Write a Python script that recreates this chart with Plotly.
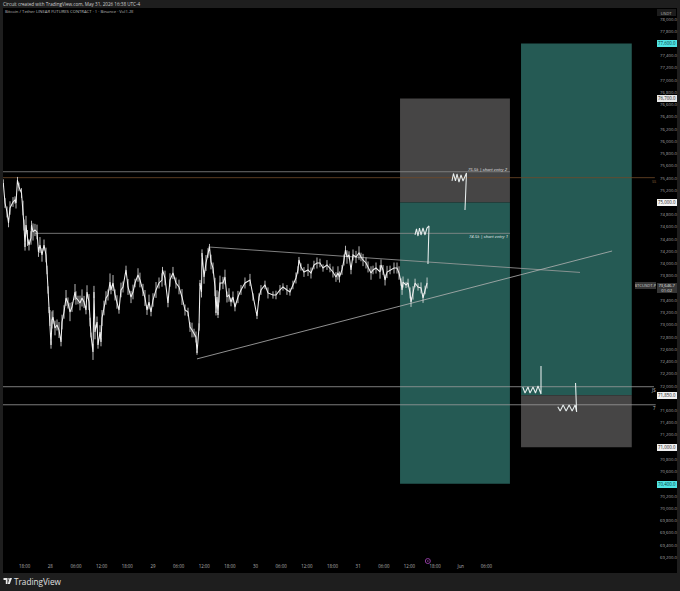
import pandas as pd
import plotly.graph_objects as go

START = pd.Timestamp("2026-05-27 13:00")

hours = [0,.4,.87,1.22,1.57,2.27,2.74,2.97,3.32,3.67,4.26,4.61,4.84,5.08,5.31,5.66,6.01,6.48,6.6,6.95,7.41,7.88,8.23,8.58,9.05,9.52,9.99,10.22,10.46,10.69,10.92,11.16,11.39,11.62,12.09,12.56,13.03,13.5,13.73,14.2,14.67,15.13,15.6,16.07,16.77,17.0,17.47,17.94,18.41,18.88,19.34,19.58,20.05,20.28,20.51,20.98,21.21,21.45,21.92,22.15,22.62,22.85,23.09,23.55,24.02,24.49,24.96,25.19,25.66,26.13,26.59,27.06,27.53,28.0,28.7,29.17,29.87,30.34,30.81,31.51,31.97,32.67,33.14,33.61,34.08,34.55,35.01,35.72,36.42,37.12,37.24,37.82,38.52,38.99,39.69,40.39,41.1,41.8,42.5,43.2,43.67,44.14,44.61,45.07,45.31,45.78,46.01,46.36,46.48,46.95,47.41,47.88,48.23,48.58,49.05,49.52,49.75,49.98,50.22,50.45,50.68,51.38,51.85,52.32,52.79,53.26,53.72,54.19,54.89,55.6,56.53,57.7,58.4,59.34,59.81,60.27,61.21,61.91,63.08,63.78,64.72,65.42,66.35,67.05,67.75,68.46,68.92,69.16,69.63,70.33,71.27,71.97,72.67,73.37,74.07,74.78,75.71,76.41,77.11,77.81,78.28,78.63,79.22,79.69,80.04,80.39,80.86,81.33,81.8,82.5,83.2,83.67,84.14,84.84,85.31,86.01,86.48,87.18,88.12,88.35,88.82,89.29,89.76,90.46,91.39,92.09,92.56,93.03,93.27,93.5,94.2,94.67,95.14,95.37,95.84,96.31,97.01,97.71,98.18,98.65,99.12]
prices = [75319,74992,74845,74665,74910,75008,75041,74992,75368,75254,75155,74910,74632,74273,74632,74420,74305,74420,74632,74518,74551,74518,74191,74305,74142,74305,74142,73897,73570,73242,73112,72670,73079,73128,72948,72997,72915,72719,73046,73210,73439,73357,73210,73291,73537,73439,73406,73357,73439,73373,73242,73537,73373,73046,72834,72556,73537,72883,73046,72670,72883,72719,73112,73275,73439,73488,73700,73570,73684,73488,73373,73242,73570,73619,73897,73619,73455,73537,73684,73815,73733,73570,73439,73242,73373,73210,73406,73570,73684,73733,73897,73766,73357,73733,73847,73684,73619,73455,73242,73210,72964,72915,72866,72801,72540,72964,73684,73537,74174,73782,74011,74174,74273,74027,73929,73619,73193,73455,73161,73455,73684,73684,73782,73455,73488,73373,73455,73291,73455,73570,73684,73733,73455,73144,73455,73570,73652,73521,73488,73488,73570,73619,73570,73537,73652,73766,73897,74060,73946,73864,73897,73847,73978,74011,74011,73929,73978,73929,73864,73782,73847,73782,73897,74060,74223,74109,74142,73897,74142,74109,74174,74109,74060,74011,73946,73847,73897,73929,73864,73978,73897,73733,73864,73897,73929,73929,73847,73700,73570,73700,73652,73684,73521,73373,73521,73684,73619,73603,73439,73570,73684]
# high-to-low spread read around each point
spreads = [60,80,90,70,110,80,60,90,50,70,80,120,90,60,150,130,90,110,70,140,100,120,80,130,110,90,120,70,60,50,
           130,60,140,110,120,90,130,70,120,110,130,90,150,80,130,110,70,120,140,100,70,110,130,70,40,130,100,120,90,60,
           110,70,130,120,110,90,140,70,130,90,110,60,120,90,70,130,100,120,70,110,120,100,130,80,120,70,110,130,90,110,
           50,120,70,110,100,90,120,130,90,70,80,120,70,90,30,60,50,90,60,110,130,80,50,120,90,150,40,110,50,90,
           120,100,120,90,110,70,90,70,100,80,90,100,60,50,60,80,70,90,60,70,80,60,80,60,70,90,60,50,60,80,
           100,90,70,90,70,60,80,70,90,80,110,90,80,90,70,110,60,70,90,100,110,70,100,90,90,110,70,90,110,90,
           80,90,100,70,90,90,110,60,80,90,50,70,90,80,110,70,60,90,80,70,90,60,50]

entry1_hours = [96.3,96.65,97.0,97.35,97.7,98.17,98.64,99.1,99.57,99.33]
entry1_prices = [74469,74567,74452,74583,74469,74583,74469,74583,74616,73995]
entry2_hours = [104.95,105.3,105.77,106.12,106.59,107.06,107.53,108.1,108.34,107.99]
entry2_prices = [75352,75474,75352,75466,75335,75450,75352,75466,75482,74877]
target1_hours = [121.5,122.03,122.73,123.2,123.9,124.48,125.07,125.77,125.77]
target1_prices = [71984,71885,71984,71885,71984,71885,72000,71869,72327]
target2_hours = [129.7,130.25,130.95,131.65,132.35,133.05,133.75,134.1,133.85]
target2_prices = [71661,71591,71689,71591,71689,71591,71689,71575,72049]

time_ticks = ["2026-05-27 18:00","2026-05-28 00:00","2026-05-28 06:00","2026-05-28 12:00","2026-05-28 18:00",
              "2026-05-29 00:00","2026-05-29 06:00","2026-05-29 12:00","2026-05-29 18:00","2026-05-30 00:00",
              "2026-05-30 06:00","2026-05-30 12:00","2026-05-30 18:00","2026-05-31 00:00","2026-05-31 06:00",
              "2026-05-31 12:00","2026-05-31 18:00","2026-06-01 00:00","2026-06-01 06:00"]
time_labels = ["18:00","28","06:00","12:00","18:00","29","06:00","12:00","18:00","30","06:00","12:00","18:00","31","06:00","12:00","18:00","Jun","06:00"]
# ticks hidden behind a price tag in the reference are left out
hidden_ticks = {77600, 75000, 73600, 71800, 71000, 70400}
price_ticks = [69200 + 200 * i for i in range(45) if 69200 + 200 * i not in hidden_ticks]

# position boxes: hours of left/right edge, prices of the levels
short_box = (92.8, 118.5, 76700, 75000, 70400)
long_box = (121.1, 147.0, 71850, 77600, 71000)
level_entry2, level_entry1, level_orange, level_a, level_b = 75503, 74496, 75406, 71988, 71693

W, H = 680, 591
ML, MR, MT, MB = 3, 24, 8, 28
PW, PH = W - ML - MR, H - MT - MB
def t(h):
    return START + pd.Timedelta(hours=h)
def ts(hs):
    return [t(h) for h in hs]
def px(x):
    return (x - ML) / PW
def py(y):
    return 1 - (y - MT) / PH

TEAL = "#255a54"
GRAY = "#464545"
LINE = "#a8a8a8"
FONT = "Open Sans, Liberation Sans, sans-serif"

fig = go.Figure()
shapes = []
# panels
shapes.append(dict(type="rect", xref="paper", yref="paper", x0=px(3), x1=px(677), y0=py(573), y1=py(8),
                   fillcolor="#000000", line_width=0, layer="below"))
# boxes
l, r, top, mid, bot = short_box
shapes.append(dict(type="rect", x0=t(l), x1=t(r), y0=mid, y1=top, fillcolor=GRAY, line_width=0, layer="below"))
shapes.append(dict(type="rect", x0=t(l), x1=t(r), y0=bot, y1=mid, fillcolor=TEAL, line_width=0, layer="below"))
l, r, mid, top, bot = long_box
shapes.append(dict(type="rect", x0=t(l), x1=t(r), y0=mid, y1=top, fillcolor=TEAL, line_width=0, layer="below"))
shapes.append(dict(type="rect", x0=t(l), x1=t(r), y0=bot, y1=mid, fillcolor=GRAY, line_width=0, layer="below"))
# logo
shapes.append(dict(type="path", xref="paper", yref="paper", fillcolor="#e8e8e8", line_width=0,
    path=f"M{px(3.5)},{py(578)} L{px(7.5)},{py(578)} L{px(7.5)},{py(584)} L{px(5.8)},{py(584)} L{px(5.8)},{py(580)} L{px(3.5)},{py(580)} Z "
         f"M{px(9.5)},{py(578)} L{px(12)},{py(578)} L{px(9.8)},{py(584)} L{px(7.8)},{py(584)} Z"))
shapes.append(dict(type="circle", xref="paper", yref="paper", x0=px(7.8), x1=px(9.2), y0=py(579.6), y1=py(578.2),
                   fillcolor="#e8e8e8", line_width=0))
fig.update_layout(shapes=shapes)

def line(hs, ps, color=LINE, width=0.8):
    fig.add_trace(go.Scatter(x=ts(hs), y=ps, mode="lines", line=dict(color=color, width=width),
                             hoverinfo="skip", showlegend=False))

line([-0.07, 118.5], [level_entry2, level_entry2], "#8a8a8a")
line([7.4, 118.5], [level_entry1, level_entry1], "#8f8f8f")
line([-0.07, 152.4], [level_orange, level_orange], "#6e4a2a")
line([-0.07, 152.2], [level_a, level_a], "#9a9a9a")
line([-0.07, 152.6], [level_b, level_b], "#9a9a9a")
line([47.95, 134.9], [74273, 73857], "#a0a0a0")
line([45.3, 142.4], [72443, 74207], "#b4b4b4")

fig.add_trace(go.Scatter(x=ts(hours), y=prices, mode="lines", line=dict(color="#f0f0f0", width=1.05),
                         hoverinfo="skip", showlegend=False,
                         error_y=dict(type="data", symmetric=True, array=spreads[:len(hours)],
                                      color="#e6e6e6", thickness=0.8, width=0)))
for hs, ps in [(entry1_hours, entry1_prices), (entry2_hours, entry2_prices),
               (target1_hours, target1_prices), (target2_hours, target2_prices)]:
    line(hs, ps, "#e8eeee", 1.05)

fig.add_trace(go.Scatter(x=[t(99.3)], y=[69138], mode="markers", hoverinfo="skip", showlegend=False, cliponaxis=False,
                         marker=dict(symbol="circle-dot", size=5, color="rgba(0,0,0,0)", line=dict(color="#8e3a9e", width=1))))

def note(x, y, text, size=4.4, color="#c8c8c8", anchor="left", bg=None, w=None, h=None, italic=False, bold=False):
    s = text
    if italic:
        s = f"<i>{s}</i>"
    if bold:
        s = f"<b>{s}</b>"
    d = dict(xref="paper", yref="paper", x=px(x), y=py(y), text=s, showarrow=False, xanchor=anchor, yanchor="middle",
             font=dict(size=size, color=color, family=FONT), borderpad=0, borderwidth=0)
    if bg:
        d["bgcolor"] = bg
    if w:
        d["width"] = w
    if h:
        d["height"] = h
    fig.add_annotation(**d)

note(3, 4, "Circuit created with TradingView.com, May 31, 2026 16:38 UTC-4", 4.6, "#d0d0d0")
note(5, 11.7, "Bitcoin / Tether LINEAR FUTURES CONTRACT · 1 · Binance · Vol1.2E", 4.2, "#b8b8b8")
note(508, 169, "75.5k | short entry 2", 4.3, "#e4e4e4", "right", italic=True)
note(508, 236, "74.5k | short entry 1", 4.3, "#e4efed", "right", italic=True)
note(655.5, 180.8, "ss", 4.4, "#7a5230", "right")
note(655.5, 389.5, "JS", 4.4, "#c0c0c0", "right")
note(655.5, 407.5, "7", 4.4, "#c0c0c0", "right")

note(666.5, 12, "USDT", 4.3, "#b8b8b8", "center", bg="#1c1c1c", w=19, h=7)
for y, txt, bg, fg in [(43.5, "77,600.0", "#4fe3e3", "#0a3a3a"), (98, "76,700.0", "#e8e8e8", "#222222"),
                       (202.5, "75,000.0", "#f4f4f4", "#222222"), (395.5, "71,850.0", "#f0f0f0", "#222222"),
                       (447, "71,000.0", "#f0f0f0", "#222222"), (484.5, "70,400.0", "#4fe3e3", "#0a3a3a")]:
    note(666.5, y, txt, 4.4, fg, "center", bg=bg, w=20, h=6.5)
note(666.5, 287.5, "73,646.7<br>01:02", 4.2, "#e0e0e0", "center", bg="#363636", w=20, h=10)
note(645.5, 285, "BTCUSDT.P", 4.2, "#d0d0d0", "center", bg="#363636", w=21, h=6.5)
note(14, 581.5, "TradingView", 8.2, "#e0e0e0")

fig.update_layout(
    width=W, height=H, autosize=False,
    margin=dict(l=ML, r=MR, t=MT, b=MB, autoexpand=False),
    paper_bgcolor="#1e1e1e", plot_bgcolor="rgba(0,0,0,0)",
    font=dict(family=FONT),
    xaxis=dict(type="date", range=[t(-0.07), t(152.67)], tickmode="array", tickvals=time_ticks, ticktext=time_labels,
               showgrid=False, zeroline=False, showline=False, ticks="", tickfont=dict(size=4.4, color="#b0b0b0"),
               ticklabelstandoff=0),
    yaxis=dict(side="right", range=[69106, 78180], tickmode="array", tickvals=price_ticks, tickformat=",.1f",
               showgrid=False, zeroline=False, showline=False, ticks="", tickfont=dict(size=4.3, color="#a8a8a8"),
               ticklabelstandoff=3),
    showlegend=False,
)
fig.write_html("out.html", config={"displayModeBar": False},
               post_script="document.body.style.margin='0';document.body.style.overflow='hidden';document.body.style.background='#1e1e1e';")
